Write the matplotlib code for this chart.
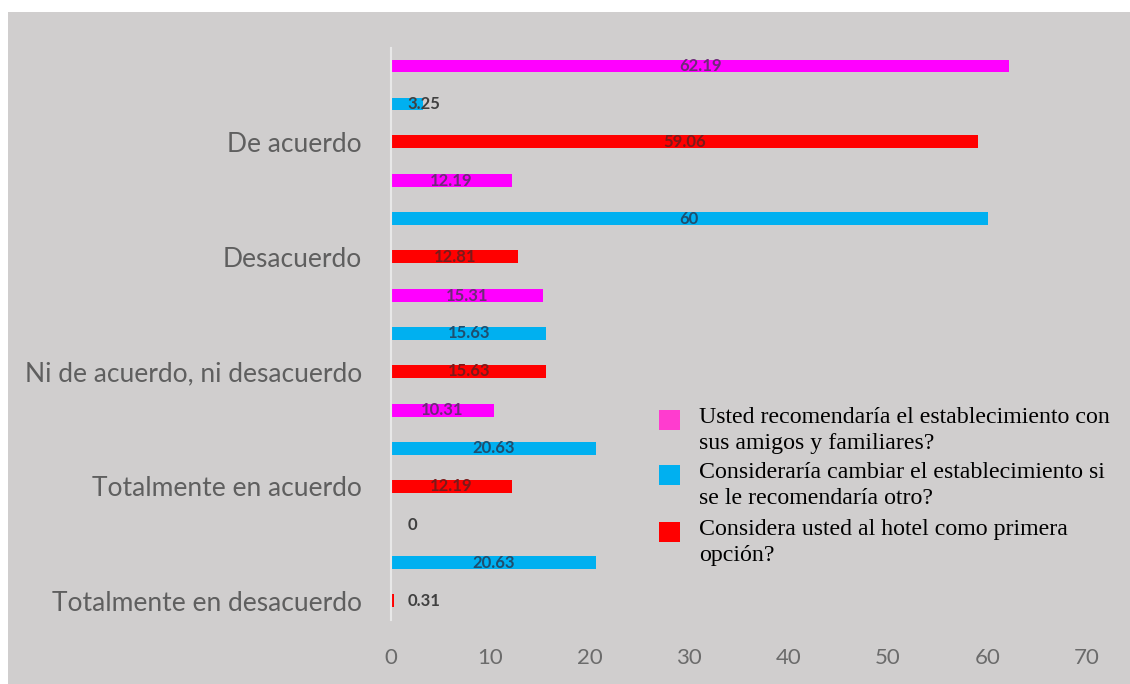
import matplotlib
matplotlib.use('Agg')
import matplotlib.pyplot as plt
from matplotlib.patches import Rectangle
import numpy as np

# categories listed bottom to top
categorias = ['Totalmente en desacuerdo', 'Totalmente en acuerdo',
              'Ni de acuerdo, ni desacuerdo', 'Desacuerdo', 'De acuerdo']

series = ['Usted recomendaría el establecimiento con\nsus amigos y familiares?',
          'Consideraría cambiar el establecimiento si\nse le recomendaría otro?',
          'Considera usted al hotel como primera\nopción?']

recomendaria = [0, 10.31, 15.31, 12.19, 62.19]
cambiaria = [20.63, 20.63, 15.63, 60, 3.25]
primera_opcion = [0.31, 12.19, 15.63, 12.81, 59.06]

ticks_x = [0, 10, 20, 30, 40, 50, 60, 70]

colores = ['#FF00FF', '#00B0F0', '#FF0000']
colores_leyenda = ['#FF3CCF', '#00B0F0', '#FF0000']
colores_etiqueta = ['#6E2A78', '#1F4E6E', '#7A1A1A']

fig = plt.figure(figsize=(11.3, 6.84), dpi=100)
fig.patch.set_facecolor('white')
# gray chart area
fig.patches.append(Rectangle((8 / 1130, 0), 1 - 8 / 1130, 1 - 12 / 684,
                             transform=fig.transFigure, facecolor='#D0CECE',
                             edgecolor='none', zorder=-5))

ax = fig.add_axes([391 / 1130, 64 / 684, 696 / 1130, 572 / 684])
ax.set_facecolor('none')

y = np.arange(len(categorias))
offsets = [0.662, 0.331, 0.0]
alto = 0.113
datos = [recomendaria, cambiaria, primera_opcion]

for k, vals in enumerate(datos):
    pos = y + offsets[k]
    ax.barh(pos, vals, height=alto, color=colores[k], edgecolor='none', zorder=2)
    for p, v in zip(pos, vals):
        texto = ('%.2f' % v).rstrip('0').rstrip('.') if v != int(v) else str(int(v))
        if v < 5:
            ax.text(1.7, p, texto, ha='left', va='center', fontsize=12,
                    fontweight='bold', color='#404040', family='Lato', zorder=3)
        else:
            ax.text(v / 2, p, texto, ha='center', va='center', fontsize=12,
                    fontweight='bold', color=colores_etiqueta[k], family='Lato', zorder=3)

ax.set_xlim(0, 70)
ax.set_ylim(-0.166, 4.819)
ax.set_xticks(ticks_x)
ax.set_xticklabels([str(t) for t in ticks_x], family='Lato', fontsize=16, color='#6b6b6b')
ax.set_yticks(y)
ax.set_yticklabels(categorias, family='Lato', fontsize=19, color='#5f5f5f')
ax.tick_params(axis='both', length=0)
ax.tick_params(axis='y', pad=21)
ax.tick_params(axis='x', pad=20)
for s in ['top', 'right', 'bottom']:
    ax.spines[s].set_visible(False)
ax.spines['left'].set_color('#E8E8E8')
ax.spines['left'].set_linewidth(1.5)

# legend drawn at the lower right
x_cuadro = 659 / 1130
x_texto = 699 / 1130
y_items = [420, 475, 532]
for k, nombre in enumerate(series):
    yc = 1 - y_items[k] / 684
    fig.patches.append(Rectangle((x_cuadro, yc - 10 / 684), 21 / 1130, 20 / 684,
                                 transform=fig.transFigure,
                                 facecolor=colores_leyenda[k], edgecolor='none', zorder=3))
    fig.text(x_texto, yc + 13 / 684, nombre, ha='left', va='top',
             family='Liberation Serif', fontsize=17.2, color='#000000',
             linespacing=1.3)

fig.savefig('out.png', dpi=100)
